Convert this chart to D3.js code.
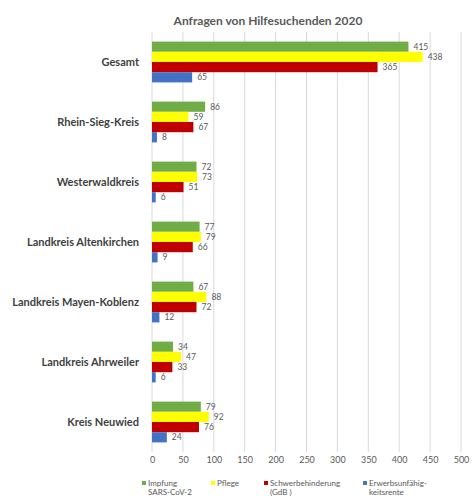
<!DOCTYPE html>
<html>
<head>
<meta charset="utf-8">
<script src="https://cdn.jsdelivr.net/npm/d3@7"></script>
<style>
  body { margin: 0; background: #fff; }
  text { font-family: Lato, "Open Sans", sans-serif; }
</style>
</head>
<body>
<div id="chart"></div>
<script>
// Chart data
const regions = ['Gesamt', 'Rhein-Sieg-Kreis', 'Westerwaldkreis', 'Landkreis Altenkirchen',
  'Landkreis Mayen-Koblenz', 'Landkreis Ahrweiler', 'Kreis Neuwied'];
const seriesNames = ['Impfung SARS-CoV-2', 'Pflege', 'Schwerbehinderung (GdB )', 'Erwerbsunfähig-keitsrente'];
const legendLines = [['Impfung', 'SARS-CoV-2'], ['Pflege'], ['Schwerbehinderung', '(GdB )'], ['Erwerbsunfähig-', 'keitsrente']];
const impfung = [415, 86, 72, 77, 67, 34, 79];
const pflege = [438, 59, 73, 79, 88, 47, 92];
const schwerbehinderung = [365, 67, 51, 66, 72, 33, 76];
const erwerbsunfaehig = [65, 8, 6, 9, 12, 6, 24];
const xTicks = [0, 50, 100, 150, 200, 250, 300, 350, 400, 450, 500];
const colors = ['#70ad47', '#ffff00', '#c00000', '#4472c4'];

const width = 474, height = 503;
const margin = { top: 32, right: 13, bottom: 51, left: 152 };
const innerW = width - margin.left - margin.right;
const innerH = height - margin.top - margin.bottom;

const svg = d3.select('#chart').append('svg')
  .attr('width', width)
  .attr('height', height);

svg.append('text')
  .attr('x', 268)
  .attr('y', 25)
  .attr('text-anchor', 'middle')
  .attr('font-size', 12)
  .attr('font-weight', 'bold')
  .attr('fill', '#595959')
  .text('Anfragen von Hilfesuchenden 2020');

const g = svg.append('g').attr('transform', `translate(${margin.left},${margin.top})`);

const x = d3.scaleLinear().domain([0, 500]).range([0, innerW]);
const y = d3.scaleBand().domain(regions).range([0, innerH]).paddingInner(0.32).paddingOuter(0.16);
const ySub = d3.scaleBand().domain(d3.range(4)).range([0, y.bandwidth()]);

// grid lines
g.append('g').selectAll('line')
  .data(xTicks)
  .join('line')
  .attr('x1', d => x(d)).attr('x2', d => x(d))
  .attr('y1', 0).attr('y2', innerH)
  .attr('stroke', '#d9d9d9')
  .attr('stroke-width', 1);

// x axis labels
const xAxis = g.append('g')
  .attr('transform', `translate(0,${innerH})`)
  .call(d3.axisBottom(x).tickValues(xTicks).tickSize(0).tickPadding(5));
xAxis.select('.domain').remove();
xAxis.selectAll('text')
  .attr('font-family', 'Lato, sans-serif')
  .attr('font-size', 9)
  .attr('fill', '#595959');

// category labels
const yAxis = g.append('g')
  .call(d3.axisLeft(y).tickSize(0).tickPadding(13));
yAxis.select('.domain').remove();
yAxis.selectAll('text')
  .attr('font-family', 'Lato, sans-serif')
  .attr('font-size', 11)
  .attr('font-weight', 'bold')
  .attr('fill', '#404040');

const series = [impfung, pflege, schwerbehinderung, erwerbsunfaehig];
const rows = [];
regions.forEach((r, i) => {
  series.forEach((s, k) => rows.push({ region: r, k: k, value: s[i] }));
});

const bars = g.append('g');
bars.selectAll('rect')
  .data(rows)
  .join('rect')
  .attr('x', x(0))
  .attr('y', d => y(d.region) + ySub(d.k))
  .attr('width', d => x(d.value) - x(0))
  .attr('height', ySub.bandwidth())
  .attr('fill', d => colors[d.k]);

bars.selectAll('text')
  .data(rows)
  .join('text')
  .attr('x', d => x(d.value) + 5)
  .attr('y', d => y(d.region) + ySub(d.k) + ySub.bandwidth() / 2)
  .attr('dy', '0.35em')
  .attr('font-size', 8.5)
  .attr('fill', '#595959')
  .text(d => d.value);

// legend
const legendX = [142, 211, 264, 363];
const legend = svg.append('g');
legendLines.forEach((lines, k) => {
  legend.append('rect')
    .attr('x', legendX[k])
    .attr('y', 481)
    .attr('width', 4)
    .attr('height', 4)
    .attr('fill', colors[k]);
  lines.forEach((t, j) => {
    legend.append('text')
      .attr('x', legendX[k] + 6)
      .attr('y', 486 + j * 9)
      .attr('font-size', 8)
      .attr('fill', '#595959')
      .text(t);
  });
});
</script>
</body>
</html>
